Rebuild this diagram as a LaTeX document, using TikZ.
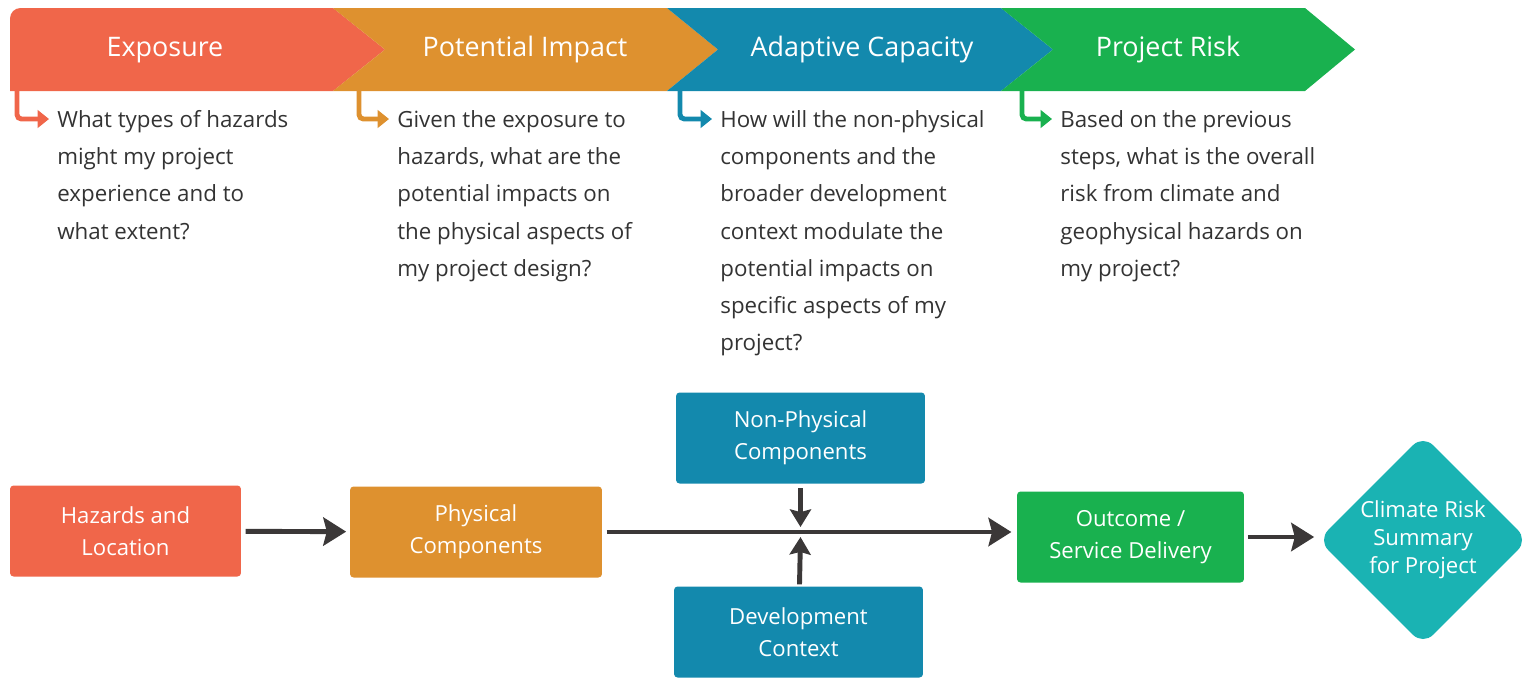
\documentclass[tikz,border=0pt]{standalone}
\usepackage{fontspec}
\setmainfont{Open Sans}
\usetikzlibrary{arrows.meta, positioning, shapes.geometric, calc}

\definecolor{expcol}{HTML}{F0664A}
\definecolor{impcol}{HTML}{DE912F}
\definecolor{adacol}{HTML}{1389AD}
\definecolor{riskcol}{HTML}{19B14F}
\definecolor{sumcol}{HTML}{1AB3B3}
\definecolor{arrowgray}{HTML}{3B3838}
\definecolor{textgray}{HTML}{333333}

\begin{document}
\begin{tikzpicture}[x=0.02cm, y=0.02cm,
        stage_title/.style={text=white, font=\fontsize{15.3}{18}\selectfont},
        question/.style={anchor=north west, align=left, inner sep=0pt, text=textgray,
            font=\fontsize{12.7}{21.2}\selectfont},
        flow_box/.style={rectangle, rounded corners=2pt, align=center, text=white,
            minimum height=1.82cm, font=\fontsize{12.6}{18.2}\selectfont},
        elbow/.style={line width=2.8pt, rounded corners=2.5pt, -{Triangle[length=6.5pt,width=10pt]}},
        flow/.style={line width=2.8pt, draw=arrowgray, -{Stealth[length=13pt,width=16pt,inset=2pt]}},
        flow_small/.style={line width=2.8pt, draw=arrowgray, -{Stealth[length=10pt,width=12pt,inset=1.5pt]}}]

    \useasboundingbox (0,0) rectangle (1528,-677);

    % Stage chevrons along the top
    \fill[expcol, rounded corners=6pt] (10,-91) -- (10,-8) -- (200,-8) [sharp corners] -- (333,-8) -- (385,-49.5) -- (333,-91) -- cycle;
    \fill[impcol] (333,-8) -- (667,-8) -- (718,-49.5) -- (667,-91) -- (333,-91) -- (385,-49.5) -- cycle;
    \fill[adacol] (667,-8) -- (1001,-8) -- (1053,-49.5) -- (1001,-91) -- (667,-91) -- (718,-49.5) -- cycle;
    \fill[riskcol] (1001,-8) -- (1305,-8) -- (1355,-49.5) -- (1305,-91) -- (1001,-91) -- (1053,-49.5) -- cycle;

    \node[stage_title] (exposure) at (165,-50) {Exposure};
    \node[stage_title] (impact) at (525,-50) {Potential Impact};
    \node[stage_title] (adaptive) at (862,-50) {Adaptive Capacity};
    \node[stage_title] (risk) at (1168,-50) {Project Risk};

    % Guiding questions under each stage
    \node[question] (q_exp) at (57,-110) {What types of hazards\\might my project\\experience and to\\what extent?};
    \node[question] (q_imp) at (397,-110) {Given the exposure to\\hazards, what are the\\potential impacts on\\the physical aspects of\\my project design?};
    \node[question] (q_ada) at (720,-110) {How will the non-physical\\components and the\\broader development\\context modulate the\\potential impacts on\\specific aspects of my\\project?};
    \node[question] (q_risk) at (1060,-110) {Based on the previous\\steps, what is the overall\\risk from climate and\\geophysical hazards on\\my project?};

    \coordinate (exp_tail) at (17,-91);
    \coordinate (imp_tail) at (359,-91);
    \coordinate (ada_tail) at (680,-91);
    \coordinate (risk_tail) at (1022,-91);

    \draw[elbow, expcol] (exp_tail) |- ($(q_exp.north west)+(-8,-9)$);
    \draw[elbow, impcol] (imp_tail) |- ($(q_imp.north west)+(-8,-9)$);
    \draw[elbow, adacol] (ada_tail) |- ($(q_ada.north west)+(-8,-9)$);
    \draw[elbow, riskcol] (risk_tail) |- ($(q_risk.north west)+(-8,-9)$);

    % Flow of the assessment
    \node[flow_box, fill=expcol, minimum width=4.62cm] (hazards) at (125.5,-531) {Hazards and\\Location};
    \node[flow_box, fill=impcol, minimum width=5.04cm] (physical) at (476,-532) {Physical\\Components};
    \node[flow_box, fill=adacol, minimum width=4.98cm] (nonphysical) at (800.5,-438) {Non-Physical\\Components};
    \node[flow_box, fill=adacol, minimum width=4.98cm] (context) at (798.5,-632) {Development\\Context};
    \node[flow_box, fill=riskcol, minimum width=4.54cm] (outcome) at (1130.5,-537) {Outcome /\\Service Delivery};
    \node[diamond, fill=sumcol, rounded corners=8pt, minimum width=4.2cm, minimum height=4.2cm, inner sep=0pt,
        align=center, text=white, font=\fontsize{12.6}{16}\selectfont] (summary) at (1423,-540) {Climate Risk\\Summary\\for Project};

    \coordinate (junction) at (nonphysical.south |- physical.east);

    \draw[flow, shorten <=2.5pt, shorten >=2pt] (hazards) -- (physical);
    \draw[flow, shorten <=2.5pt, shorten >=3pt] (physical.east) -- (physical.east -| outcome.west);
    \draw[flow_small, shorten <=2.5pt] (nonphysical) -- ($(junction)+(0,5)$);
    \draw[flow_small, shorten <=1pt] (context) -- ($(junction)+(0,-5)$);
    \draw[flow, shorten <=2pt, shorten >=2pt] (outcome.east) -- (outcome.east -| summary.west);
\end{tikzpicture}
\end{document}
